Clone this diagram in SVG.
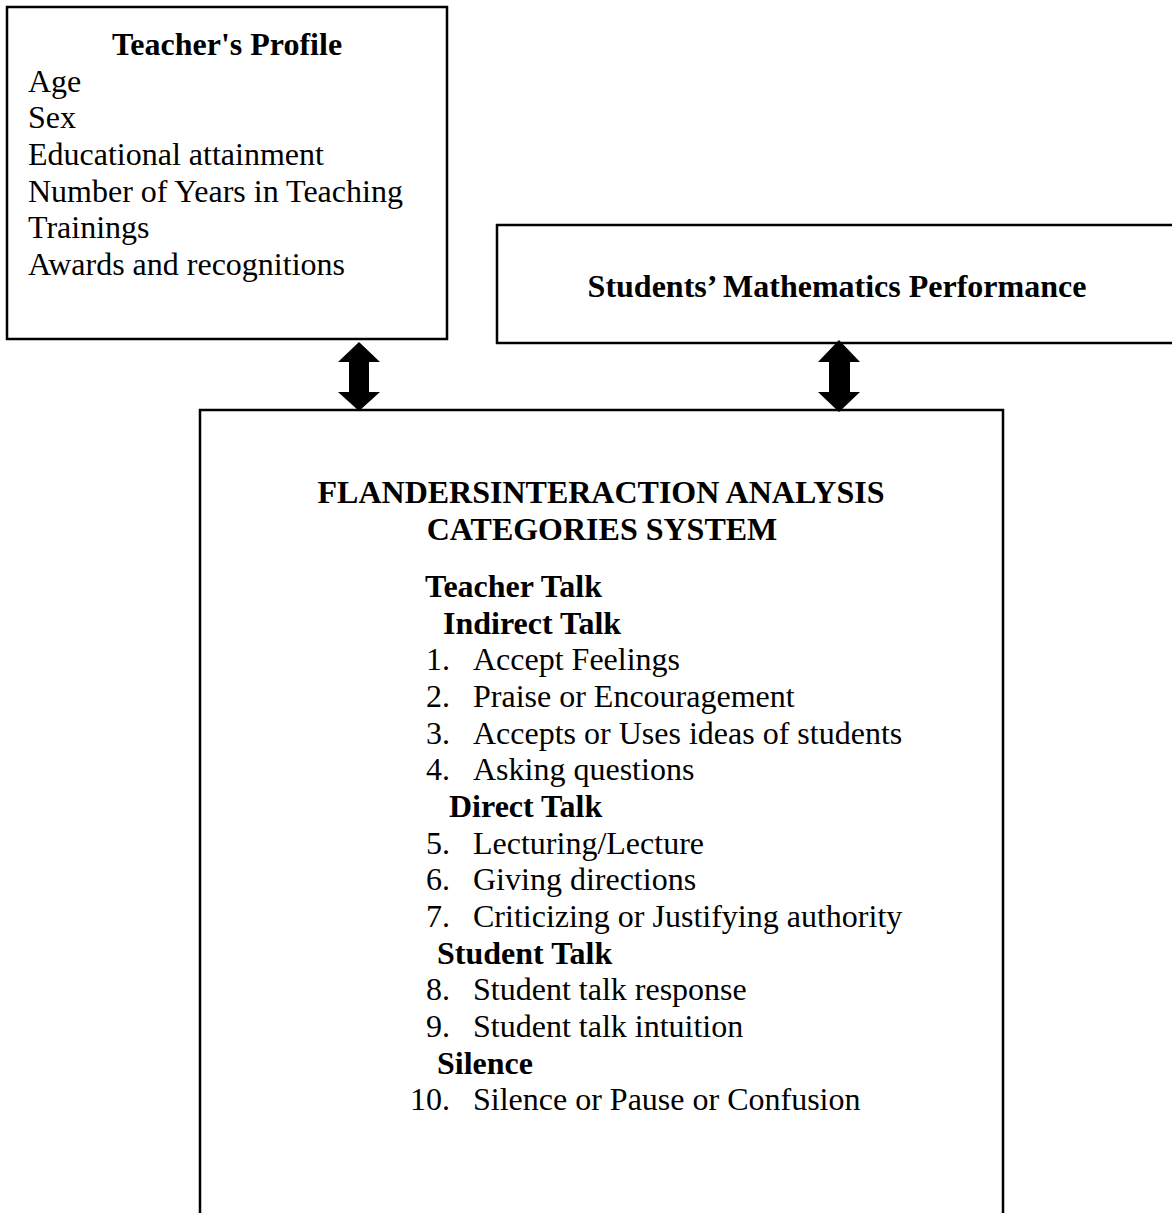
<svg xmlns="http://www.w3.org/2000/svg" width="1172" height="1213" viewBox="0 0 1172 1213">
<style>
.box{fill:#fff;stroke:#000;stroke-width:2.5}
text{font-family:"Liberation Serif","Times New Roman",serif;font-size:32px;fill:#000}
.b{font-weight:bold}
.c{text-anchor:middle}
.n{text-anchor:end}
.arrow{fill:#000;stroke:none}
</style>
<rect width="1172" height="1213" fill="#fff"/>
<g id="teacher-profile">
<rect class="box" x="7" y="7" width="440" height="332"/>
<text class="b c" x="227" y="55">Teacher's Profile</text>
<text x="28" y="91.7">Age</text>
<text x="28" y="128.3">Sex</text>
<text x="28" y="165">Educational attainment</text>
<text x="28" y="201.7">Number of Years in Teaching</text>
<text x="28" y="238.3">Trainings</text>
<text x="28" y="275">Awards and recognitions</text>
</g>
<g id="students-performance">
<rect class="box" x="497" y="225" width="720" height="118"/>
<text class="b c" x="837" y="297">Students’ Mathematics Performance</text>
</g>
<g id="fiac">
<rect class="box" x="200" y="410" width="803" height="840"/>
<text class="b c" x="601" y="503">FLANDERSINTERACTION ANALYSIS</text>
<text class="b c" x="602" y="540">CATEGORIES SYSTEM</text>
<text class="b" x="425" y="597">Teacher Talk</text>
<text class="b" x="443" y="633.7">Indirect Talk</text>
<text class="n" x="450" y="670.3">1.</text><text x="473" y="670.3">Accept Feelings</text>
<text class="n" x="450" y="707">2.</text><text x="473" y="707">Praise or Encouragement</text>
<text class="n" x="450" y="743.7">3.</text><text x="473" y="743.7">Accepts or Uses ideas of students</text>
<text class="n" x="450" y="780.3">4.</text><text x="473" y="780.3">Asking questions</text>
<text class="b" x="449" y="817">Direct Talk</text>
<text class="n" x="450" y="853.7">5.</text><text x="473" y="853.7">Lecturing/Lecture</text>
<text class="n" x="450" y="890.3">6.</text><text x="473" y="890.3">Giving directions</text>
<text class="n" x="450" y="927">7.</text><text x="473" y="927">Criticizing or Justifying authority</text>
<text class="b" x="437" y="963.7">Student Talk</text>
<text class="n" x="450" y="1000.3">8.</text><text x="473" y="1000.3">Student talk response</text>
<text class="n" x="450" y="1037">9.</text><text x="473" y="1037">Student talk intuition</text>
<text class="b" x="437" y="1073.7">Silence</text>
<text class="n" x="450" y="1110.3">10.</text><text x="473" y="1110.3">Silence or Pause or Confusion</text>
</g>
<g id="connectors">
<polygon class="arrow" points="359,342 380,362 369,362 369,392 380,392 359,411 338,392 349,392 349,362 338,362"/>
<polygon class="arrow" points="839,340 860,362 850,362 850,392 860,392 839,412 818,392 829,392 829,362 818,362"/>
</g>
</svg>
